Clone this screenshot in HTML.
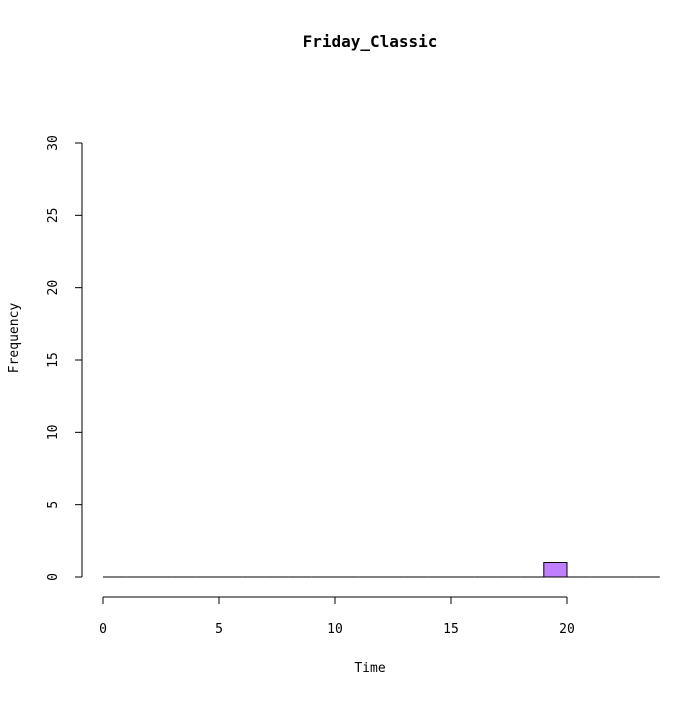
<!DOCTYPE html>
<html><head><meta charset="utf-8"><style>
body{margin:0;background:#fff}
text{font-family:"DejaVu Sans Mono","Liberation Mono",monospace;font-size:13px;fill:#000}
</style></head><body>
<svg width="699" height="699">
<text x="370" y="47" text-anchor="middle" style="font-weight:bold;font-size:16px">Friday_Classic</text>
<text x="370" y="672" text-anchor="middle">Time</text>
<text transform="translate(18,338) rotate(-90)" text-anchor="middle">Frequency</text>
<g id="bars"></g>
<g id="xaxis"></g>
<g id="yaxis"></g>
</svg>
<script>
const binStarts=[0,1,2,3,4,5,6,7,8,9,10,11,12,13,14,15,16,17,18,19,20,21,22,23];
const counts=[0,0,0,0,0,0,0,0,0,0,0,0,0,0,0,0,0,0,0,1,0,0,0,0];
const xTicks=[0,5,10,15,20];
const yTicks=[0,5,10,15,20,25,30];
const NS="http://www.w3.org/2000/svg";
const X=v=>103+v*23.2;
const Y=v=>577-v*(434/30);
function mk(t,a,p){const e=document.createElementNS(NS,t);for(const k in a)e.setAttribute(k,a[k]);p.appendChild(e);return e;}
const bars=document.getElementById('bars');
binStarts.forEach((s,i)=>{
 const x0=X(s),x1=X(s+1),y0=Y(0),y1=Y(counts[i]);
 const r=mk('path',{d:`M${x0},${y0}H${x1}V${y1}H${x0}Z`,fill:'#bf7fff',stroke:'#000','stroke-width':1},bars);
 
 
});
const xa=document.getElementById('xaxis');
mk('line',{x1:X(xTicks[0]),x2:X(xTicks[xTicks.length-1]),y1:597,y2:597,stroke:'#000'},xa);
xTicks.forEach(t=>{
 mk('line',{x1:X(t),x2:X(t),y1:597,y2:604,stroke:'#000'},xa);
 const tx=mk('text',{x:X(t),y:633,'text-anchor':'middle'},xa);tx.textContent=t;
 
 
});
const ya=document.getElementById('yaxis');
mk('line',{x1:82,x2:82,y1:Y(yTicks[0]),y2:Y(yTicks[yTicks.length-1]),stroke:'#000'},ya);
yTicks.forEach(t=>{
 mk('line',{x1:75,x2:82,y1:Y(t),y2:Y(t),stroke:'#000'},ya);
 const tx=mk('text',{transform:`translate(57,${Y(t)}) rotate(-90)`,'text-anchor':'middle'},ya);tx.textContent=t;
 
 
});
</script>
</body></html>
